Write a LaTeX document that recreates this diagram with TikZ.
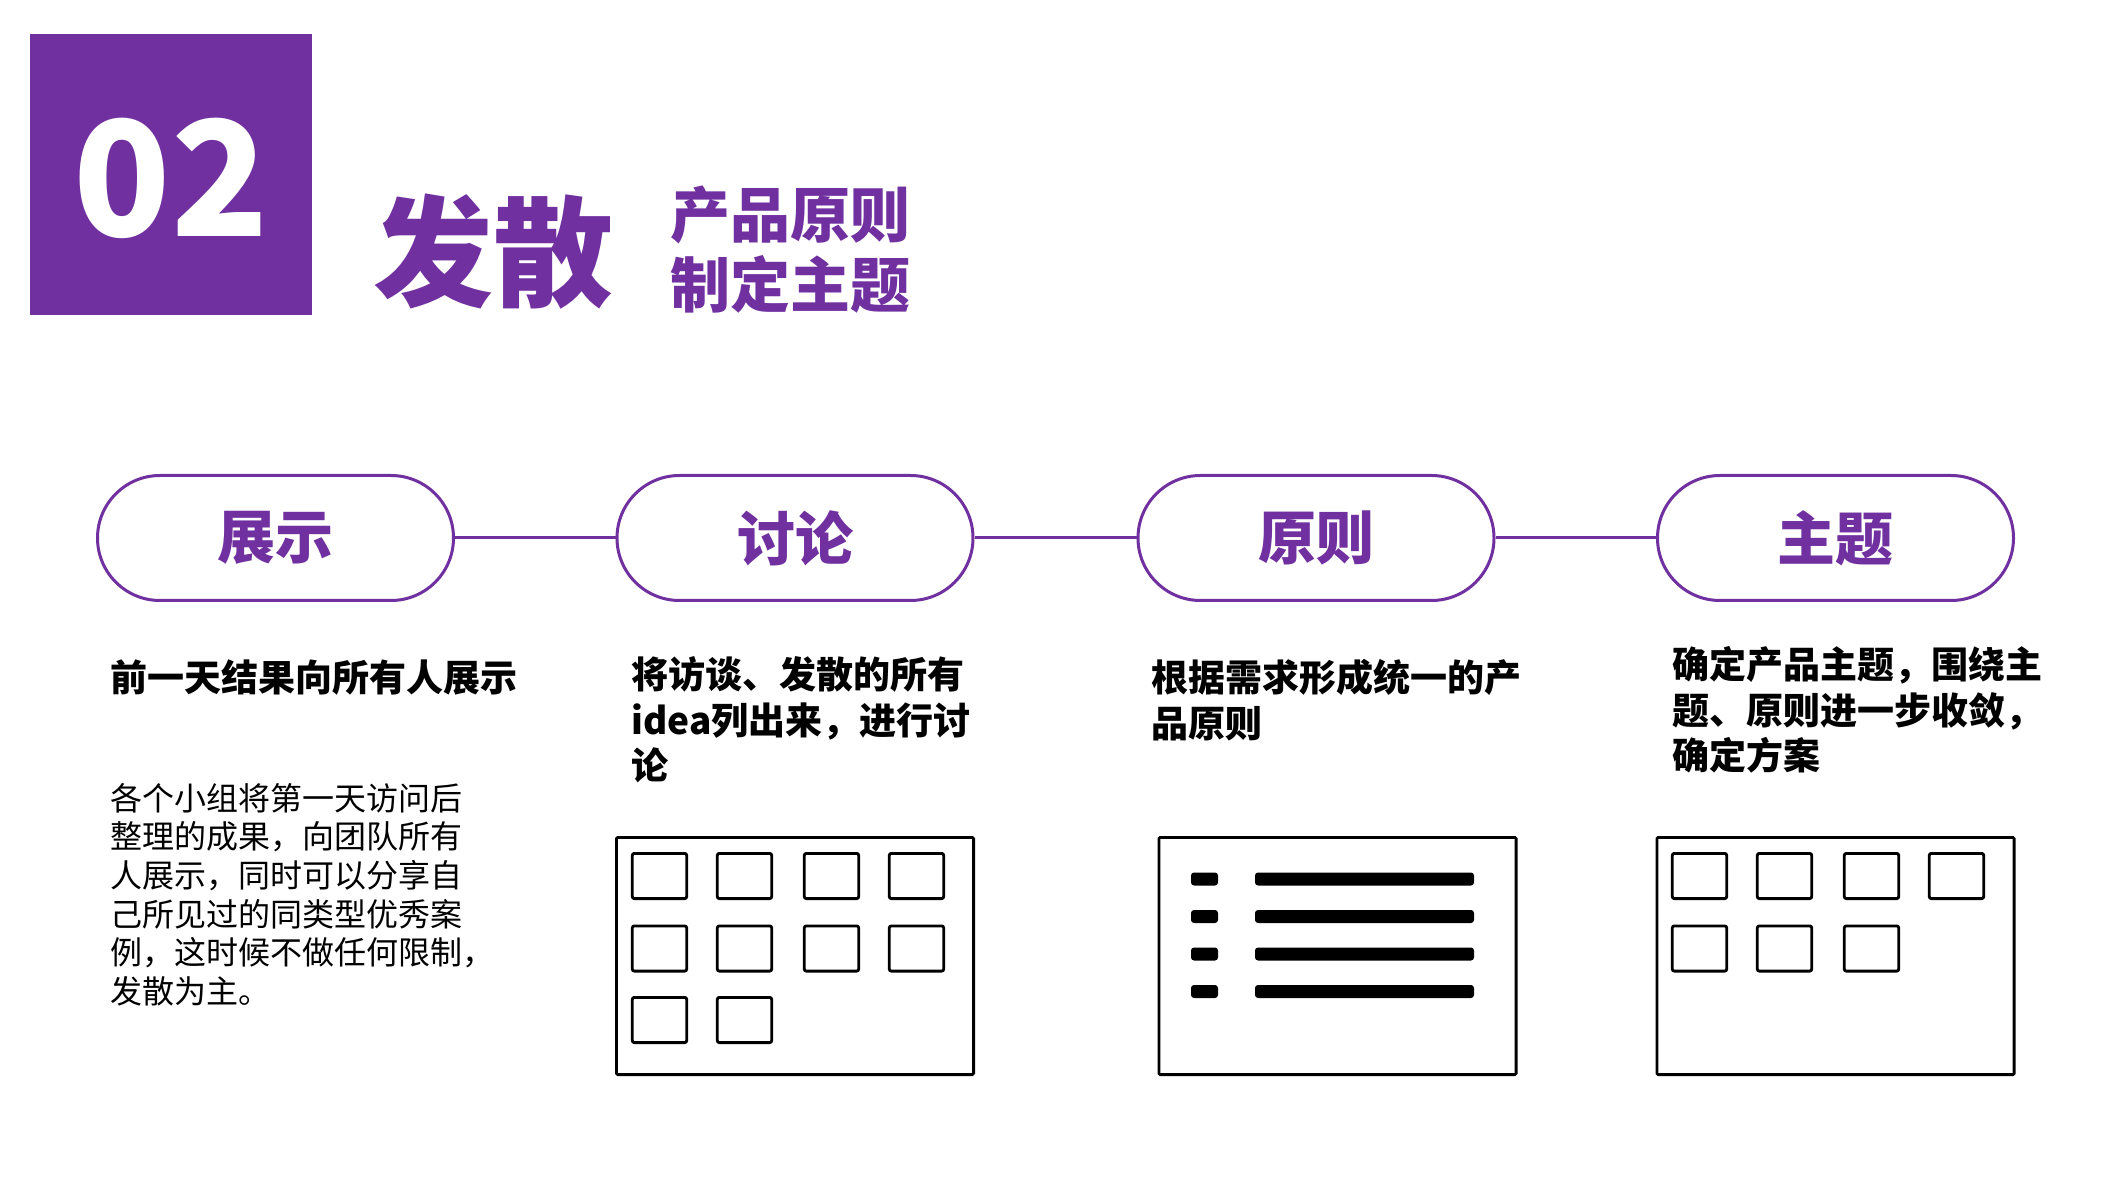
\documentclass[tikz,border=0pt]{standalone}
\usepackage{fontspec}
\setmainfont{Noto Sans CJK SC}
\usetikzlibrary{shapes.misc}
\definecolor{vio}{HTML}{7030A0}
\begin{document}
\begin{tikzpicture}[x=0.5pt,y=-0.5pt,
  pill/.style={rounded rectangle, draw=vio, line width=1.5pt, minimum width=178pt, minimum height=62.5pt, inner sep=0pt, font=\fontsize{29}{34}\selectfont\bfseries, text=vio, fill=white},
  link/.style={draw=vio, line width=1.5pt},
  frame/.style={draw=black, line width=1.4pt, minimum width=178.6pt, minimum height=118.6pt, inner sep=0pt, rounded corners=0.6pt},
  tile/.style={draw=black, line width=1.4pt, minimum width=27.2pt, minimum height=22.6pt, inner sep=0pt, rounded corners=1pt},
  bar/.style={fill=black, rounded corners=1.5pt, minimum height=6.5pt, inner sep=0pt},
  head/.style={anchor=west, inner sep=0pt, align=left, font=\fontsize{18.5}{22.75}\selectfont\bfseries},
  body/.style={anchor=west, inner sep=0pt, align=left, font=\fontsize{16}{19.3}\selectfont}]
\useasboundingbox (0,0) rectangle (2111,1187);
% header
\fill[vio] (30,34) rectangle (312,315);
\node[font=\fontsize{80}{80}\selectfont\bfseries, text=white, inner sep=0pt] (num) at (171,178) {02};
\node[font=\fontsize{60}{60}\selectfont\bfseries, text=vio, inner sep=0pt] (title) at (493,252) {发散};
\node[anchor=west, font=\fontsize{30}{35}\selectfont\bfseries, text=vio, inner sep=0pt, align=left] (sub) at (670,250) {产品原则\\制定主题};
% pills
\node[pill] (p1) at (275.5,538) {展示};
\node[pill] (p2) at (795,538) {讨论};
\node[pill] (p3) at (1316,538) {原则};
\node[pill] (p4) at (1835.5,538) {主题};
\draw[link] (p1.east) -- (p2.west);
\draw[link] (p2.east) -- (p3.west);
\draw[link] (p3.east) -- (p4.west);
% headings
\node[head] (h1) at (110,678) {前一天结果向所有人展示};
\node[head] (h2) at (631,720) {将访谈、发散的所有\\idea列出来，进行讨\\论};
\node[head] (h3) at (1151,700) {根据需求形成统一的产\\品原则};
\node[head] (h4) at (1672,710) {确定产品主题，围绕主\\题、原则进一步收敛，\\确定方案};
\node[body] (b1) at (110,894.5) {各个小组将第一天访问后\\整理的成果，向团队所有\\人展示，同时可以分享自\\己所见过的同类型优秀案\\例，这时候不做任何限制，\\发散为主。};
% frames
\node[frame] (f2) at (795,956) {};
\node[frame] (f3) at (1337.5,956) {};
\node[frame] (f4) at (1835.5,956) {};
% tiles in frame 2
\foreach \c [count=\i] in {659.5,744.5,831.5,916.5}{
  \node[tile] (ta\i) at (\c,876) {};
  \node[tile] (tb\i) at (\c,948.5) {};
}
\node[tile] (tc1) at (659.5,1020) {};
\node[tile] (tc2) at (744.5,1020) {};
% tiles in frame 4
\foreach \c [count=\i] in {1699.5,1784.5,1871.5,1956.5}{
  \node[tile] (ua\i) at (\c,876) {};
}
\foreach \c [count=\i] in {1699.5,1784.5,1871.5}{
  \node[tile] (ub\i) at (\c,948.5) {};
}
% list bars in frame 3
\foreach \r [count=\i] in {879,916.5,954,991.5}{
  \node[bar, minimum width=13.5pt] (bu\i) at (1204.5,\r) {};
  \node[bar, minimum width=109.5pt] (bl\i) at (1364.5,\r) {};
}
\end{tikzpicture}
\end{document}
